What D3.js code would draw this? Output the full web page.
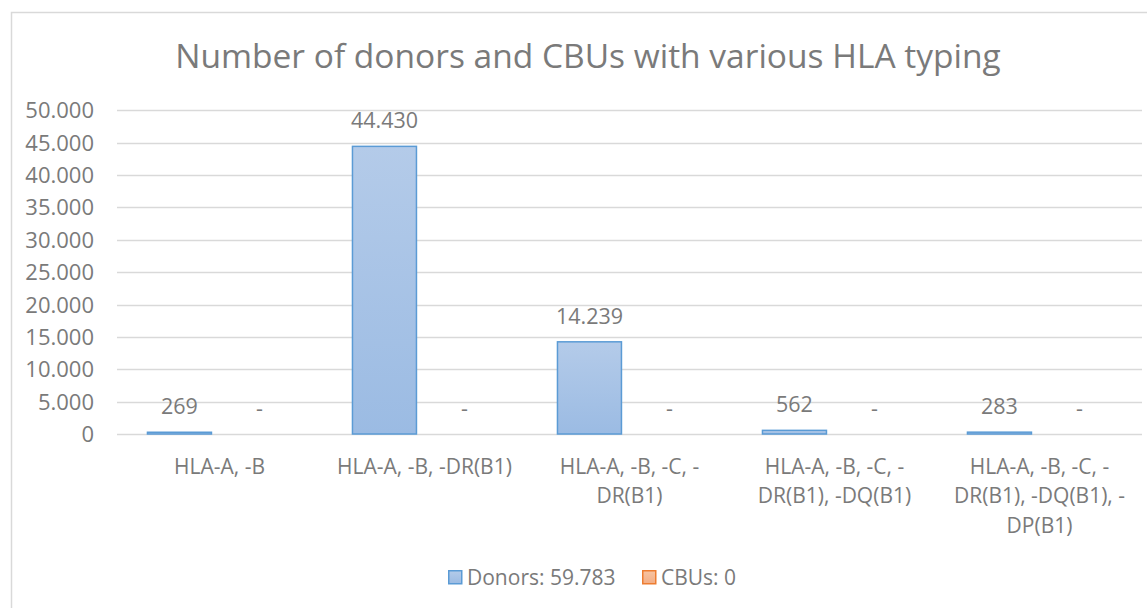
<!DOCTYPE html>
<html>
<head>
<meta charset="utf-8">
<script src="https://cdn.jsdelivr.net/npm/d3@7"></script>
<style>
  html, body { margin: 0; padding: 0; background: #fff; }
  svg { display: block; font-family: "Open Sans", "Noto Sans", sans-serif; }
</style>
</head>
<body>
<svg id="chart" width="1147" height="608"></svg>
<script>
// ---- data ----
const title = "Number of donors and CBUs with various HLA typing";
const categories = [
  "HLA-A, -B",
  "HLA-A, -B, -DR(B1)",
  "HLA-A, -B, -C, -DR(B1)",
  "HLA-A, -B, -C, -DR(B1), -DQ(B1)",
  "HLA-A, -B, -C, -DR(B1), -DQ(B1), -DP(B1)"
];
const categoryLines = [
  ["HLA-A, -B"],
  ["HLA-A, -B, -DR(B1)"],
  ["HLA-A, -B, -C, -", "DR(B1)"],
  ["HLA-A, -B, -C, -", "DR(B1), -DQ(B1)"],
  ["HLA-A, -B, -C, -", "DR(B1), -DQ(B1), -", "DP(B1)"]
];
const seriesNames = ["Donors", "CBUs"];
const donors = [269, 44430, 14239, 562, 283];
const cbus = [0, 0, 0, 0, 0];
const legendLabels = ["Donors: 59.783", "CBUs: 0"];
const yTicks = [0, 5000, 10000, 15000, 20000, 25000, 30000, 35000, 40000, 45000, 50000];

// ---- layout ----
const W = 1147, H = 608;
const plot = { left: 117, right: 1142, top: 110.3, bottom: 434 };
const textColor = "#7a7a7a";
const gridColor = "#d9d9d9";

const svg = d3.select("#chart");
const defs = svg.append("defs");
const gBlue = defs.append("linearGradient").attr("id", "gBlue").attr("x1", 0).attr("y1", 0).attr("x2", 0).attr("y2", 1);
gBlue.append("stop").attr("offset", "0%").attr("stop-color", "#b4cbe9");
gBlue.append("stop").attr("offset", "100%").attr("stop-color", "#9bbbe3");
const gOrange = defs.append("linearGradient").attr("id", "gOrange").attr("x1", 0).attr("y1", 0).attr("x2", 0).attr("y2", 1);
gOrange.append("stop").attr("offset", "0%").attr("stop-color", "#f7c4a2");
gOrange.append("stop").attr("offset", "100%").attr("stop-color", "#f3ad84");

const seriesStyle = {
  Donors: { fill: "url(#gBlue)", stroke: "#5b9bd5" },
  CBUs: { fill: "url(#gOrange)", stroke: "#ed7d31" }
};

// chart border
svg.append("rect")
  .attr("x", 11.5).attr("y", 12.5)
  .attr("width", W + 20).attr("height", H + 20)
  .attr("fill", "#fff").attr("stroke", gridColor).attr("stroke-width", 1.5);

// title
svg.append("text")
  .attr("x", 588).attr("y", 67.5)
  .attr("text-anchor", "middle")
  .attr("fill", textColor)
  .attr("font-size", 33.5)
  .text(title);

// scales
const x0 = d3.scaleBand().domain(categories).range([plot.left, plot.right]).padding(0);
const x1 = d3.scalePoint().domain(seriesNames).range([0, x0.bandwidth()]).padding(0.78);
const barW = 64;
const y = d3.scaleLinear().domain([0, 50000]).range([plot.bottom, plot.top]);

const locale = d3.formatLocale({ decimal: ",", thousands: ".", grouping: [3], currency: ["", ""] });
const fmt = locale.format(",d");

// gridlines
svg.append("g").selectAll("line").data(yTicks).join("line")
  .attr("x1", plot.left).attr("x2", plot.right)
  .attr("y1", d => Math.round(y(d)) + 0.5).attr("y2", d => Math.round(y(d)) + 0.5)
  .attr("stroke", gridColor).attr("stroke-width", 1.3);

// y axis labels
const yAxis = d3.axisLeft(y).tickValues(yTicks).tickFormat(fmt).tickSize(0).tickPadding(0);
const yg = svg.append("g").attr("transform", `translate(94,0)`).call(yAxis);
yg.select(".domain").remove();
yg.selectAll("text").attr("fill", textColor).attr("font-size", 22)
  .attr("font-family", "'Open Sans', sans-serif").attr("dy", "0.34em");

// bars
const rows = categories.map((c, i) => ({ cat: c, Donors: donors[i], CBUs: cbus[i] }));
const catG = svg.append("g").selectAll("g").data(rows).join("g")
  .attr("transform", d => `translate(${x0(d.cat)},0)`);

catG.selectAll("rect").data(d => seriesNames.map(s => ({ s, v: d[s] }))).join("rect")
  .filter(d => d.v > 0)
  .attr("x", d => x1(d.s) - barW / 2)
  .attr("y", d => y(d.v))
  .attr("width", barW)
  .attr("height", d => y(0) - y(d.v))
  .attr("fill", d => seriesStyle[d.s].fill)
  .attr("stroke", d => seriesStyle[d.s].stroke)
  .attr("stroke-width", 1.5);

// data labels
catG.selectAll("text").data(d => seriesNames.map(s => ({ s, v: d[s] }))).join("text")
  .attr("x", d => x1(d.s))
  .attr("y", d => y(d.v) - 18)
  .attr("text-anchor", "middle")
  .attr("fill", textColor)
  .attr("font-size", 21.5)
  .text(d => d.v === 0 ? "-" : fmt(d.v));

// x labels
const xl = svg.append("g").selectAll("text").data(categories).join("text")
  .attr("x", d => x0(d) + x0.bandwidth() / 2)
  .attr("y", 473.5)
  .attr("text-anchor", "middle")
  .attr("fill", textColor)
  .attr("font-size", 21);
xl.each(function(d, i) {
  d3.select(this).selectAll("tspan").data(categoryLines[i]).join("tspan")
    .attr("x", x0(d) + x0.bandwidth() / 2)
    .attr("dy", (t, j) => j === 0 ? 0 : 29.5)
    .text(t => t);
});

// legend
const legendX = [448, 642];
const lg = svg.append("g").selectAll("g").data(seriesNames).join("g")
  .attr("transform", (d, i) => `translate(${legendX[i]},570)`);
lg.append("rect").attr("x", 0.75).attr("y", 0.75).attr("width", 13).attr("height", 13)
  .attr("fill", d => seriesStyle[d].fill).attr("stroke", d => seriesStyle[d].stroke).attr("stroke-width", 1.5);
lg.append("text").attr("x", 19).attr("y", 14.5)
  .attr("fill", textColor).attr("font-size", 21)
  .text((d, i) => legendLabels[i]);
</script>
</body>
</html>
